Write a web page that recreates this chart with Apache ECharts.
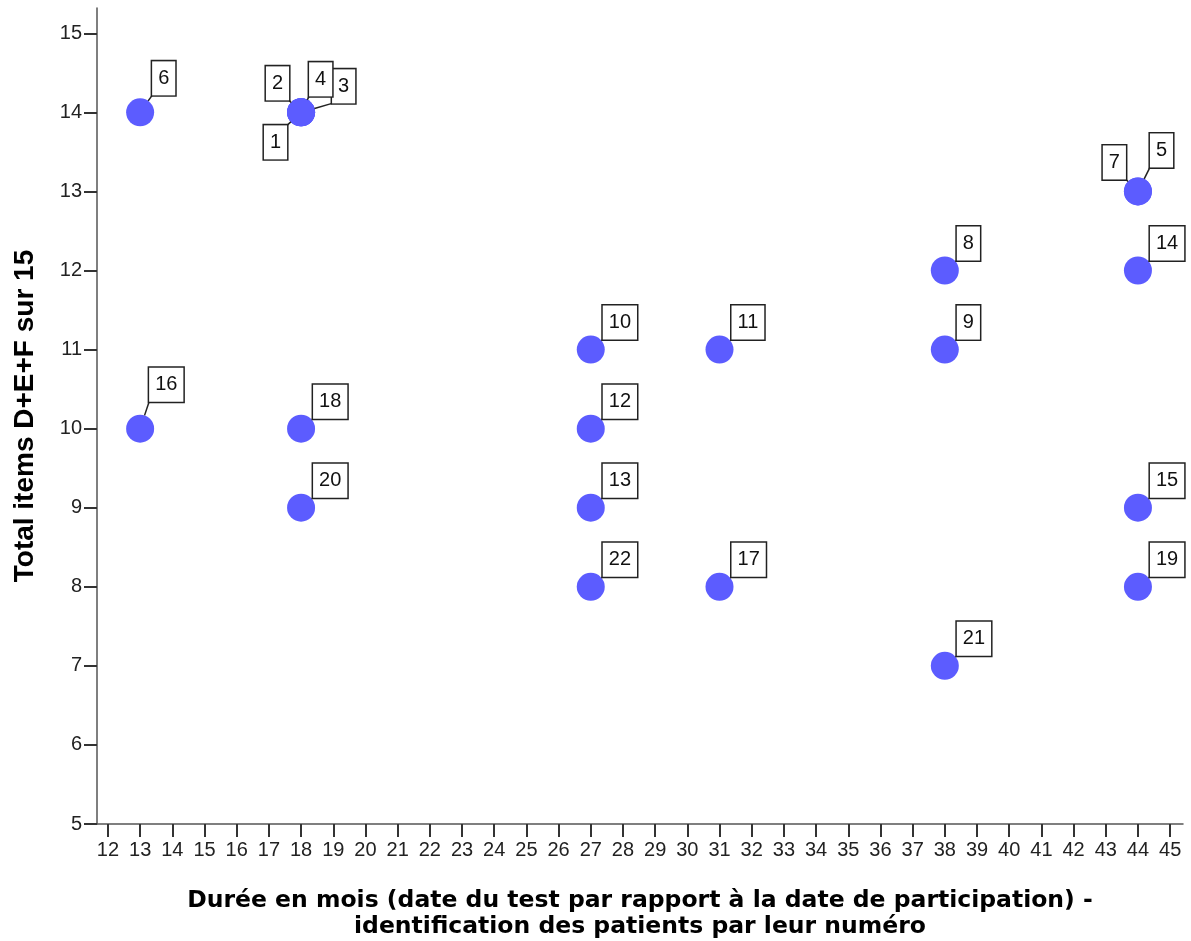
<!DOCTYPE html>
<html>
<head>
<meta charset="utf-8">
<script src="https://cdn.jsdelivr.net/npm/echarts@6/dist/echarts.min.js"></script>
<style>
  html, body { margin: 0; padding: 0; background: #fff; }
  #chart { width: 1191px; height: 941px; }
</style>
</head>
<body>
<div id="chart"></div>
<script>
// ---- Data ----
const patientIds = [1, 2, 3, 4, 5, 6, 7, 8, 9, 10, 11, 12, 13, 14, 15, 16, 17, 18, 19, 20, 21, 22];
const months     = [18, 18, 18, 18, 44, 13, 44, 38, 38, 27, 31, 27, 27, 44, 44, 13, 31, 18, 44, 18, 38, 27];
const scores     = [14, 14, 14, 14, 13, 14, 13, 12, 11, 11, 11, 10, 9, 12, 9, 10, 8, 10, 8, 9, 7, 8];
const xTickValues = [12, 13, 14, 15, 16, 17, 18, 19, 20, 21, 22, 23, 24, 25, 26, 27, 28, 29, 30, 31, 32, 33, 34, 35, 36, 37, 38, 39, 40, 41, 42, 43, 44, 45];
const yTickValues = [5, 6, 7, 8, 9, 10, 11, 12, 13, 14, 15];
const xTitle = 'Durée en mois (date du test par rapport à la date de participation) -\nidentification des patients par leur numéro';
const yTitle = 'Total items D+E+F sur 15';

// ---- Label placement (style: pixel offsets of the box corner from the dot centre) ----
const labelPlacement = {
  1: { corner: 'tr', dx: -14, dy: 13 },
  2: { corner: 'br', dx: -12, dy: -12 },
  3: { corner: 'bl', dx: 31, dy: -9 },
  4: { corner: 'bl', dx: 8, dy: -16 },
  5: { corner: 'bl', dx: 12, dy: -24 },
  6: { corner: 'bl', dx: 12, dy: -17 },
  7: { corner: 'br', dx: -12, dy: -12 },
  16: { corner: 'bl', dx: 9, dy: -27 }
};
const defaultPlacement = { corner: 'bl', dx: 12, dy: -10 };
const DOT_SIZE = 28;

const points = patientIds.map((id, i) => [months[i], scores[i], id]);

const chart = echarts.init(document.getElementById('chart'), null, { renderer: 'canvas' });

const axisLineStyle = { color: '#555', width: 1.5 };

chart.setOption({
  animation: false,
  backgroundColor: '#ffffff',
  grid: { left: 97, right: 8, top: 8, bottom: 117, containLabel: false, outerBoundsMode: 'none' },
  xAxis: {
    type: 'value',
    min: 11.66,
    max: 45.4,
    splitLine: { show: false },
    axisLine: { show: true, onZero: false, lineStyle: axisLineStyle },
    axisTick: { show: true, length: 13, lineStyle: { color: '#333', width: 2 }, customValues: xTickValues },
    axisLabel: {
      customValues: xTickValues, margin: 16,
      fontFamily: '"Liberation Sans", Arial, sans-serif', fontSize: 20, color: '#222'
    },
    name: xTitle,
    nameLocation: 'middle',
    nameGap: 64,
    nameTextStyle: {
      fontFamily: '"DejaVu Sans", Verdana, sans-serif', fontWeight: 'bold',
      fontSize: 23.5, lineHeight: 26, color: '#000'
    }
  },
  yAxis: {
    type: 'value',
    min: 5,
    max: 15.32,
    splitLine: { show: false },
    axisLine: { show: true, onZero: false, lineStyle: axisLineStyle },
    axisTick: { show: true, length: 13, lineStyle: { color: '#333', width: 2 }, customValues: yTickValues },
    axisLabel: {
      customValues: yTickValues, margin: 15,
      fontFamily: '"Liberation Sans", Arial, sans-serif', fontSize: 20, color: '#222'
    },
    name: yTitle,
    nameLocation: 'middle',
    nameGap: 58,
    nameTextStyle: {
      fontFamily: '"Liberation Sans", Arial, sans-serif', fontWeight: 'bold',
      fontSize: 28, color: '#000'
    }
  },
  series: [
    {
      type: 'scatter',
      data: points,
      symbol: 'circle',
      symbolSize: DOT_SIZE,
      itemStyle: { color: '#5c5cff', opacity: 1 },
      emphasis: { disabled: true },
      z: 2
    },
    {
      type: 'custom',
      coordinateSystem: 'cartesian2d',
      data: points,
      z: 3,
      silent: true,
      renderItem: function (params, api) {
        const id = api.value(2);
        const c = api.coord([api.value(0), api.value(1)]);
        const pl = labelPlacement[id] || defaultPlacement;
        const ax = c[0] + pl.dx;
        const ay = c[1] + pl.dy;
        const len = Math.sqrt(pl.dx * pl.dx + pl.dy * pl.dy);
        const r = DOT_SIZE / 2;
        const children = [];
        if (len > r) {
          children.push({
            type: 'line',
            shape: { x1: ax, y1: ay, x2: c[0] + pl.dx / len * r, y2: c[1] + pl.dy / len * r },
            style: { stroke: '#222', lineWidth: 1.5 }
          });
        }
        children.push({
          type: 'text',
          x: ax,
          y: ay,
          style: {
            text: String(id),
            align: pl.corner[1] === 'l' ? 'left' : 'right',
            verticalAlign: pl.corner[0] === 'b' ? 'bottom' : 'top',
            font: '20px "Liberation Sans", Arial, sans-serif',
            lineHeight: 20,
            fill: '#111',
            padding: [7, 6, 7, 6],
            backgroundColor: '#ffffff',
            borderColor: '#222',
            borderWidth: 1.5
          }
        });
        return { type: 'group', children: children };
      }
    }
  ]
});
</script>
</body>
</html>
